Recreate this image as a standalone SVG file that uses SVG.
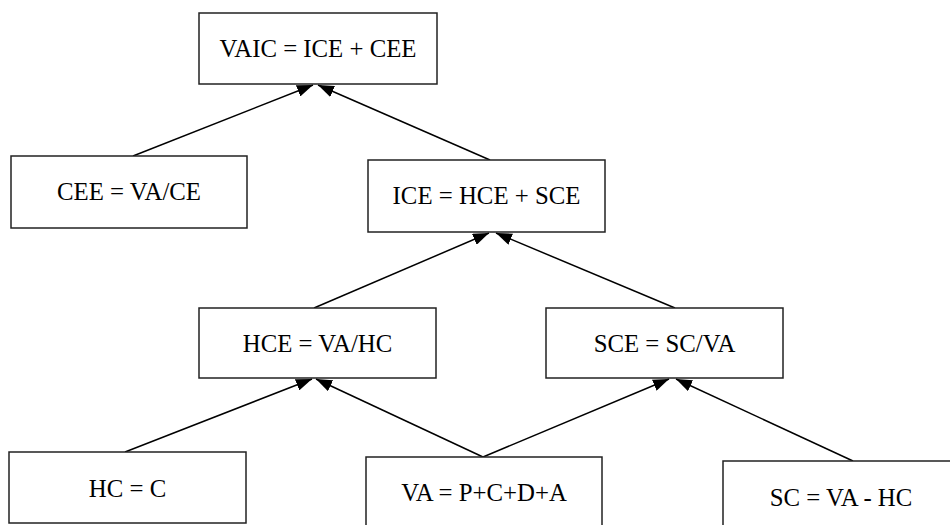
<svg xmlns="http://www.w3.org/2000/svg" width="950" height="525" viewBox="0 0 950 525">
  <style>
    .box { fill: #ffffff; stroke: #222222; stroke-width: 1.5; }
    .lbl { font-family: "Liberation Serif", "Times New Roman", "DejaVu Serif", serif; font-size: 24.8px; fill: #000000; text-anchor: middle; }
    .edge { stroke: #000000; stroke-width: 1.5; fill: none; marker-end: url(#arrow); }
  </style>
  <defs>
    <marker id="arrow" markerUnits="userSpaceOnUse" markerWidth="16" markerHeight="12" refX="16" refY="6" orient="auto">
      <path d="M0,0 L16,6 L0,12 z" fill="#000000"/>
    </marker>
  </defs>
  <rect width="950" height="525" fill="#ffffff"/>
  <g id="connectors">
    <line class="edge" x1="133" y1="156" x2="313" y2="85"/>
    <line class="edge" x1="490" y1="160" x2="318" y2="85"/>
    <line class="edge" x1="314" y1="308" x2="489" y2="233"/>
    <line class="edge" x1="675" y1="308" x2="496" y2="233"/>
    <line class="edge" x1="125" y1="452" x2="312" y2="379"/>
    <line class="edge" x1="483" y1="457" x2="316" y2="379"/>
    <line class="edge" x1="483" y1="457" x2="669" y2="379"/>
    <line class="edge" x1="853" y1="461" x2="676" y2="379"/>
  </g>
  <g id="vaic">
    <rect class="box" x="199" y="13" width="238" height="71"/>
    <text class="lbl" x="318" y="57">VAIC = ICE + CEE</text>
  </g>
  <g id="cee">
    <rect class="box" x="11" y="156" width="236" height="72"/>
    <text class="lbl" x="129" y="200">CEE = VA/CE</text>
  </g>
  <g id="ice">
    <rect class="box" x="368" y="160" width="237" height="72"/>
    <text class="lbl" x="486.5" y="204">ICE = HCE + SCE</text>
  </g>
  <g id="hce">
    <rect class="box" x="199" y="308" width="237" height="70"/>
    <text class="lbl" x="317.5" y="352">HCE = VA/HC</text>
  </g>
  <g id="sce">
    <rect class="box" x="546" y="308" width="237" height="70"/>
    <text class="lbl" x="664.5" y="352">SCE = SC/VA</text>
  </g>
  <g id="hc">
    <rect class="box" x="9" y="452" width="237" height="71"/>
    <text class="lbl" x="127.5" y="497">HC = C</text>
  </g>
  <g id="va">
    <rect class="box" x="366" y="457" width="236" height="72"/>
    <text class="lbl" x="484" y="501">VA = P+C+D+A</text>
  </g>
  <g id="sc">
    <rect class="box" x="723" y="461" width="236" height="72"/>
    <text class="lbl" x="841" y="506">SC = VA - HC</text>
  </g>
</svg>
